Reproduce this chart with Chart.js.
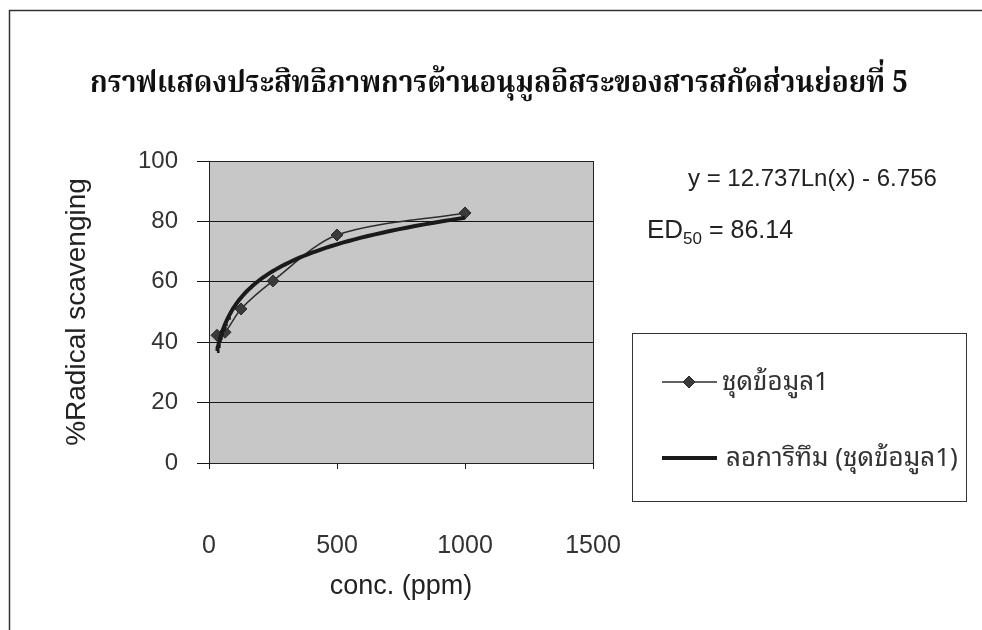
<!DOCTYPE html>
<html>
<head>
<meta charset="utf-8">
<title>ประสิทธิภาพการต้านอนุมูลอิสระ</title>
<script src="https://cdn.jsdelivr.net/npm/chart.js@4.4.1/dist/chart.umd.min.js"></script>
<style>
  html, body { margin: 0; padding: 0; background: #ffffff; }
  #wrap { width: 982px; height: 630px; position: relative; }
  canvas { display: block; }
</style>
</head>
<body>
<div id="wrap"><canvas id="c" width="982" height="630"></canvas></div>
<script>
// Concentrations of the sub-fraction 5 extract (ppm) and measured scavenging (%)
const concPpm = [31.25, 62.5, 125, 250, 500, 1000];
const scavengingPct = [42.3, 43.3, 51.0, 60.3, 75.5, 82.8];

// Logarithmic trend line: y = a·ln(x) + b
const trendA = 12.737;
const trendB = -6.756;
const ed50 = 86.14;

// Axis tick values
const xTicks = [0, 500, 1000, 1500];
const yTicks = [0, 20, 40, 60, 80, 100];

const titleText = 'กราฟแสดงประสิทธิภาพการต้านอนุมูลอิสระของสารสกัดส่วนย่อยที่ 5';
const seriesName = 'ชุดข้อมูล1';
const trendName = 'ลอการิทึม (ชุดข้อมูล1)';
const xTitle = 'conc. (ppm)';
const yTitle = '%Radical scavenging';

const SANS = '"Liberation Sans", Arial, sans-serif';
const THAI_SANS = '"Noto Sans Thai Looped", "Loma", "Garuda", "Tlwg Typo", "Noto Sans Thai", "Liberation Sans", sans-serif';
const THAI_SERIF = '"Noto Serif Thai", "Norasi", "Kinnari", "Angsana New", "Liberation Serif", serif';

// sample the trend curve across the measured range
const trendPts = [];
const lo = concPpm[0], hi = concPpm[concPpm.length - 1];
for (let i = 0; i <= 80; i++) {
  const x = lo * Math.pow(hi / lo, i / 80);
  trendPts.push({ x: x, y: trendA * Math.log(x) + trendB });
}
const dataPts = concPpm.map((x, i) => ({ x: x, y: scavengingPct[i] }));

const decor = {
  id: 'decor',
  beforeDraw(chart) {
    const { ctx, chartArea: a } = chart;
    ctx.save();
    ctx.fillStyle = '#ffffff';
    ctx.fillRect(0, 0, chart.width, chart.height);
    ctx.fillStyle = '#c7c7c7';
    ctx.fillRect(a.left, a.top, a.right - a.left, a.bottom - a.top);
    ctx.restore();
  },
  beforeDatasetsDraw(chart) {
    const { ctx, chartArea: a } = chart;
    ctx.save();
    ctx.strokeStyle = '#222';
    ctx.lineWidth = 1;
    ctx.strokeRect(Math.round(a.left) + 0.5, Math.round(a.top) + 0.5,
      Math.round(a.right - a.left), Math.round(a.bottom - a.top));
    ctx.restore();
  },
  afterDraw(chart) {
    const ctx = chart.ctx;
    ctx.save();
    // outer frame
    ctx.strokeStyle = '#333';
    ctx.lineWidth = 1.5;
    ctx.strokeRect(9.5, 10.5, 1100, 800);

    // title, condensed to its line width
    ctx.fillStyle = '#111';
    ctx.font = 'bold 31px ' + THAI_SERIF;
    ctx.textBaseline = 'alphabetic';
    ctx.textAlign = 'left';
    const tw = ctx.measureText(titleText).width;
    const targetW = 818;
    ctx.save();
    ctx.translate(90, 92);
    ctx.scale(targetW / tw, 1);
    ctx.fillText(titleText, 0, 0);
    ctx.restore();

    // trend equation and ED50
    ctx.fillStyle = '#222';
    ctx.font = '24px ' + SANS;
    ctx.fillText('y = ' + trendA.toFixed(3) + 'Ln(x) - ' + Math.abs(trendB).toFixed(3), 688, 186);
    ctx.font = '26px ' + SANS;
    let x = 647;
    ctx.fillText('ED', x, 238);
    x += ctx.measureText('ED').width;
    ctx.font = '17px ' + SANS;
    ctx.fillText('50', x, 244);
    x += ctx.measureText('50').width;
    ctx.font = '25px ' + SANS;
    ctx.fillText(' = ' + ed50.toFixed(2), x, 238);

    // legend box
    ctx.fillStyle = '#ffffff';
    ctx.fillRect(632.5, 333.5, 334, 168);
    ctx.strokeStyle = '#333';
    ctx.lineWidth = 1;
    ctx.strokeRect(632.5, 333.5, 334, 168);

    const ds = chart.data.datasets;
    // series entry: thin line with a diamond marker
    const d0 = ds[0];
    ctx.strokeStyle = d0.borderColor;
    ctx.lineWidth = d0.borderWidth;
    ctx.beginPath(); ctx.moveTo(662, 382); ctx.lineTo(717, 382); ctx.stroke();
    ctx.fillStyle = d0.pointBackgroundColor;
    ctx.strokeStyle = d0.pointBorderColor;
    ctx.lineWidth = 1;
    ctx.beginPath();
    ctx.moveTo(689, 376); ctx.lineTo(695, 382); ctx.lineTo(689, 388); ctx.lineTo(683, 382);
    ctx.closePath(); ctx.fill(); ctx.stroke();
    // trend entry: thick line
    const d1 = ds[1];
    ctx.strokeStyle = d1.borderColor;
    ctx.lineWidth = d1.borderWidth;
    ctx.beginPath(); ctx.moveTo(662, 458); ctx.lineTo(717, 458); ctx.stroke();

    ctx.fillStyle = '#333';
    ctx.font = '26px ' + THAI_SANS;
    ctx.textBaseline = 'middle';
    ctx.fillText(seriesName, 722, 383);
    ctx.fillText(trendName, 726, 459);
    ctx.restore();
  }
};

new Chart(document.getElementById('c'), {
  type: 'scatter',
  data: {
    datasets: [
      {
        label: seriesName,
        data: dataPts,
        showLine: true,
        borderColor: '#2e2e2e',
        borderWidth: 1.5,
        tension: 0.3,
        pointStyle: 'rectRot',
        pointRadius: 6,
        pointHoverRadius: 6,
        pointBackgroundColor: '#3a3a3a',
        pointBorderColor: '#2a2a2a',
        pointBorderWidth: 1,
        order: 1
      },
      {
        label: trendName,
        data: trendPts,
        showLine: true,
        borderColor: '#1a1a1a',
        borderWidth: 4,
        pointRadius: 0,
        pointHoverRadius: 0,
        tension: 0,
        order: 0
      }
    ]
  },
  options: {
    responsive: false,
    animation: false,
    events: [],
    layout: { padding: { left: 56, top: 161, right: 389, bottom: 23 } },
    plugins: {
      legend: { display: false },
      title: { display: false },
      tooltip: { enabled: false }
    },
    scales: {
      x: {
        type: 'linear',
        min: xTicks[0],
        max: xTicks[xTicks.length - 1],
        afterBuildTicks(scale) { scale.ticks = xTicks.map(v => ({ value: v })); },
        afterFit(scale) { scale.height = 144; },
        ticks: {
          color: '#333',
          font: { family: SANS, size: 25 },
          padding: 62,
          maxRotation: 0,
          callback: v => String(v)
        },
        grid: { drawOnChartArea: false, drawTicks: true, tickLength: 6, color: '#222' },
        border: { display: true, color: '#222', width: 1 },
        title: {
          display: true,
          text: xTitle,
          color: '#222',
          font: { family: SANS, size: 27 },
          padding: { top: 0, bottom: 4 }
        }
      },
      y: {
        type: 'linear',
        min: yTicks[0],
        max: yTicks[yTicks.length - 1],
        afterBuildTicks(scale) { scale.ticks = yTicks.map(v => ({ value: v })); },
        afterFit(scale) { scale.width = 153; },
        ticks: {
          color: '#333',
          font: { family: SANS, size: 24 },
          padding: 19,
          callback: v => String(v)
        },
        grid: { drawOnChartArea: true, drawTicks: true, tickLength: 12, color: '#151515', lineWidth: 1 },
        border: { display: true, color: '#222', width: 1 },
        title: {
          display: true,
          text: yTitle,
          color: '#222',
          font: { family: SANS, size: 28 },
          padding: { top: 4, bottom: 0 }
        }
      }
    }
  },
  plugins: [decor]
});
</script>
</body>
</html>
